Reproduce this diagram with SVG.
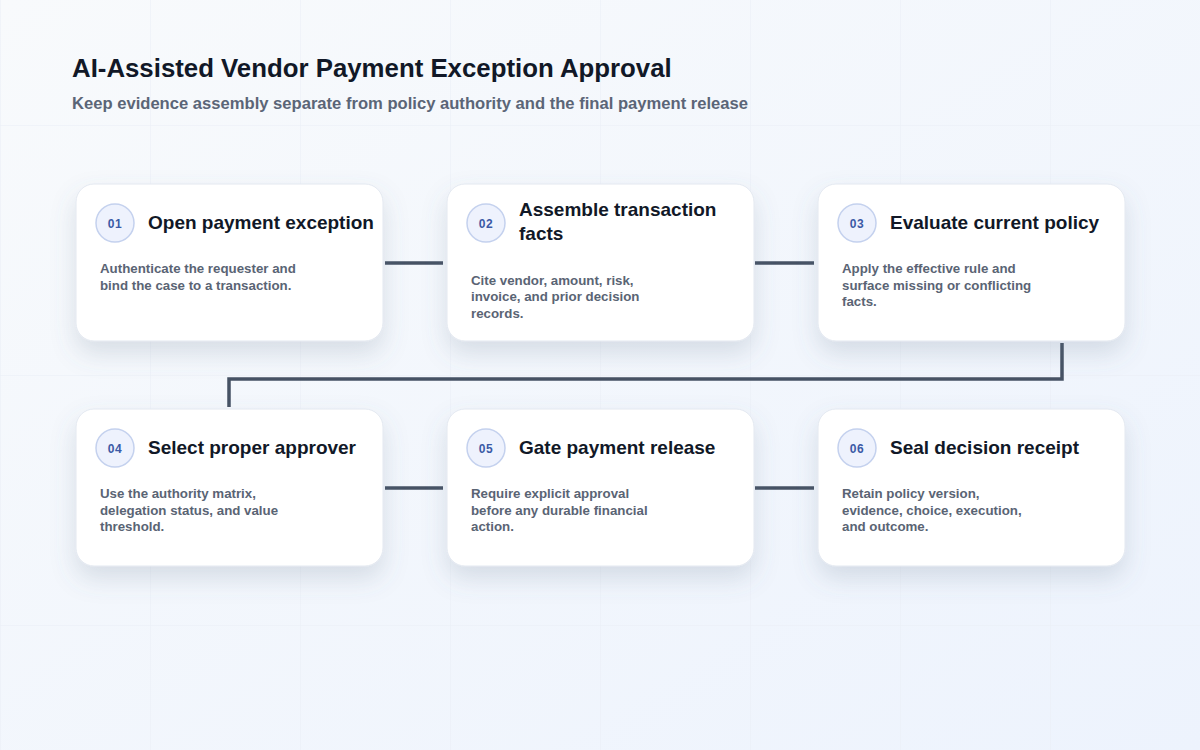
<svg xmlns="http://www.w3.org/2000/svg" width="1200" height="750" viewBox="0 0 1200 750">
  <defs>
    <linearGradient id="bg" x1="0" y1="0" x2="1" y2="1">
      <stop offset="0" stop-color="#f8fafc"/>
      <stop offset="1" stop-color="#edf3fd"/>
    </linearGradient>
    <pattern id="grid" x="0" y="125" width="150" height="250" patternUnits="userSpaceOnUse">
      <path d="M0 0H150M0 0V250" fill="none" stroke="#e9eef5" stroke-width="1"/>
    </pattern>
    <filter id="shadow" x="-20%" y="-20%" width="140%" height="170%">
      <feDropShadow dx="0" dy="12" stdDeviation="12" flood-color="#64748b" flood-opacity="0.2"/>
    </filter>
  </defs>
  <style>
    .card{fill:#ffffff;stroke:#e3e8f0;stroke-width:1;filter:url(#shadow)}
    .badge{fill:#eef2fd;stroke:#c4d1ee;stroke-width:1.5}
    .num{font-family:"Liberation Sans",Arial,sans-serif;font-weight:700;font-size:12px;fill:#3b5aa6;text-anchor:middle;letter-spacing:0.5px}
    .ttl{font-family:"Liberation Sans",Arial,sans-serif;font-weight:700;font-size:19px;fill:#111827}
    .desc{font-family:"Liberation Sans",Arial,sans-serif;font-weight:700;font-size:13.3px;fill:#5a6474}
    .conn{fill:none;stroke:#465264;stroke-width:3.5;stroke-linecap:butt;stroke-linejoin:miter}
  </style>
  <rect width="1200" height="750" fill="url(#bg)"/>
  <rect width="1200" height="750" fill="url(#grid)"/>

  <text x="72" y="77" font-family="Liberation Sans, Arial, sans-serif" font-weight="700" font-size="25.8" fill="#111827">AI-Assisted Vendor Payment Exception Approval</text>
  <text x="72" y="109" font-family="Liberation Sans, Arial, sans-serif" font-weight="700" font-size="16.6" fill="#5b6577">Keep evidence assembly separate from policy authority and the final payment release</text>

  <g id="connectors">
    <path class="conn" d="M385 263H443"/>
    <path class="conn" d="M755 263H814"/>
    <path class="conn" d="M1062 343V379H229V407"/>
    <path class="conn" d="M385 488H443"/>
    <path class="conn" d="M755 488H814"/>
  </g>

  <g id="step01">
    <rect class="card" x="76" y="184" width="307" height="157" rx="18"/>
    <circle class="badge" cx="115" cy="223" r="19"/>
    <text class="num" x="115" y="227.5">01</text>
    <text class="ttl" x="148" y="229">Open payment exception</text>
    <text class="desc" x="100" y="273">Authenticate the requester and</text>
    <text class="desc" x="100" y="289.7">bind the case to a transaction.</text>
  </g>

  <g id="step02">
    <rect class="card" x="447" y="184" width="307" height="157" rx="18"/>
    <circle class="badge" cx="486" cy="223" r="19"/>
    <text class="num" x="486" y="227.5">02</text>
    <text class="ttl" x="519" y="216">Assemble transaction</text>
    <text class="ttl" x="519" y="240">facts</text>
    <text class="desc" x="471" y="284.5">Cite vendor, amount, risk,</text>
    <text class="desc" x="471" y="301.2">invoice, and prior decision</text>
    <text class="desc" x="471" y="317.9">records.</text>
  </g>

  <g id="step03">
    <rect class="card" x="818" y="184" width="307" height="157" rx="18"/>
    <circle class="badge" cx="857" cy="223" r="19"/>
    <text class="num" x="857" y="227.5">03</text>
    <text class="ttl" x="890" y="229">Evaluate current policy</text>
    <text class="desc" x="842" y="273">Apply the effective rule and</text>
    <text class="desc" x="842" y="289.7">surface missing or conflicting</text>
    <text class="desc" x="842" y="306.4">facts.</text>
  </g>

  <g id="step04">
    <rect class="card" x="76" y="409" width="307" height="157" rx="18"/>
    <circle class="badge" cx="115" cy="448" r="19"/>
    <text class="num" x="115" y="452.5">04</text>
    <text class="ttl" x="148" y="454">Select proper approver</text>
    <text class="desc" x="100" y="498">Use the authority matrix,</text>
    <text class="desc" x="100" y="514.7">delegation status, and value</text>
    <text class="desc" x="100" y="531.4">threshold.</text>
  </g>

  <g id="step05">
    <rect class="card" x="447" y="409" width="307" height="157" rx="18"/>
    <circle class="badge" cx="486" cy="448" r="19"/>
    <text class="num" x="486" y="452.5">05</text>
    <text class="ttl" x="519" y="454">Gate payment release</text>
    <text class="desc" x="471" y="498">Require explicit approval</text>
    <text class="desc" x="471" y="514.7">before any durable financial</text>
    <text class="desc" x="471" y="531.4">action.</text>
  </g>

  <g id="step06">
    <rect class="card" x="818" y="409" width="307" height="157" rx="18"/>
    <circle class="badge" cx="857" cy="448" r="19"/>
    <text class="num" x="857" y="452.5">06</text>
    <text class="ttl" x="890" y="454">Seal decision receipt</text>
    <text class="desc" x="842" y="498">Retain policy version,</text>
    <text class="desc" x="842" y="514.7">evidence, choice, execution,</text>
    <text class="desc" x="842" y="531.4">and outcome.</text>
  </g>
</svg>
